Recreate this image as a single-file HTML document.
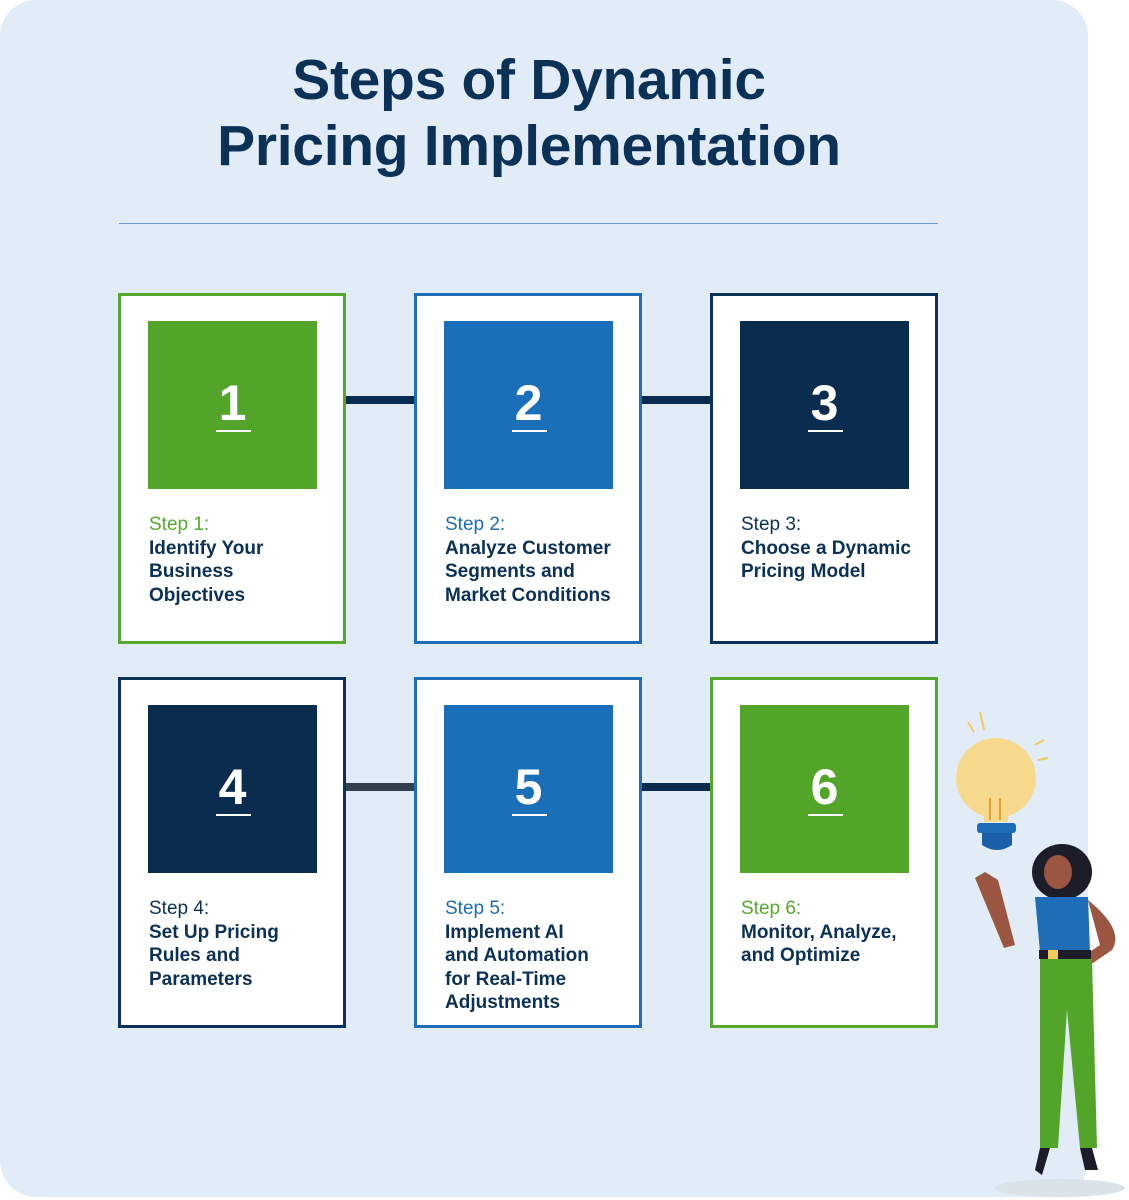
<!DOCTYPE html>
<html><head><meta charset="utf-8"><style>
body{margin:0;width:1129px;height:1200px;background:#fff;position:relative;overflow:hidden;font-family:"Liberation Sans",sans-serif}
.bg{position:absolute;left:0;top:0;width:1088px;height:1197px;background:#e1ecf6;border-radius:36px}
h1{position:absolute;left:0;width:1058px;top:47px;margin:0;text-align:center;font-size:57px;line-height:66px;color:#0c3156;font-weight:700;letter-spacing:-0.3px}
.hr{position:absolute;left:119px;top:223px;width:819px;height:1px;background:#6a9bd0}
.card{position:absolute;width:222px;height:345px;background:#fff;border:3px solid}
.sq{position:absolute;left:27px;top:25px;width:169px;height:168px;color:#fff;font-size:50px;font-weight:700;text-align:center}
.sq span{position:absolute;left:0;right:0;top:54px;line-height:56px}
.sq i{position:absolute;left:68px;top:109px;width:35px;height:2px;background:#fff}
.txt{position:absolute;left:28px;top:217px;font-size:19px;line-height:23.5px;color:#0c3156;font-weight:700}
.txt b{display:block;font-weight:400}
.con{position:absolute;height:8px;background:#0a2d4f}
.g{border-color:#55a82b}.b{border-color:#1f6db6}.n{border-color:#0c3156}
</style></head><body>
<div class="bg"></div>
<h1>Steps of Dynamic<br>Pricing Implementation</h1>
<div class="hr"></div>
<div class="con" style="left:346px;top:396px;width:70px"></div>
<div class="con" style="left:642px;top:396px;width:70px"></div>
<div class="con" style="left:346px;top:783px;width:70px;background:#333f4c"></div>
<div class="con" style="left:642px;top:783px;width:70px"></div>

<div class="card g" style="left:118px;top:293px"><div class="sq" style="background:#53a52a"><span>1</span><i></i></div><div class="txt"><b style="color:#55a82b">Step 1:</b>Identify Your<br>Business<br>Objectives</div></div>
<div class="card b" style="left:414px;top:293px"><div class="sq" style="background:#1b6fb8"><span>2</span><i></i></div><div class="txt"><b style="color:#1f6db6">Step 2:</b>Analyze Customer<br>Segments and<br>Market Conditions</div></div>
<div class="card n" style="left:710px;top:293px"><div class="sq" style="background:#0a2d4f"><span>3</span><i></i></div><div class="txt"><b style="color:#0c3156">Step 3:</b>Choose a Dynamic<br>Pricing Model</div></div>
<div class="card n" style="left:118px;top:677px"><div class="sq" style="background:#0a2d4f"><span>4</span><i></i></div><div class="txt"><b style="color:#0c3156">Step 4:</b>Set Up Pricing<br>Rules and<br>Parameters</div></div>
<div class="card b" style="left:414px;top:677px"><div class="sq" style="background:#1b6fb8"><span>5</span><i></i></div><div class="txt"><b style="color:#1f6db6">Step 5:</b>Implement AI<br>and Automation<br>for Real-Time<br>Adjustments</div></div>
<div class="card g" style="left:710px;top:677px"><div class="sq" style="background:#53a52a"><span>6</span><i></i></div><div class="txt"><b style="color:#55a82b">Step 6:</b>Monitor, Analyze,<br>and Optimize</div></div>

<svg style="position:absolute;left:940px;top:700px" width="189" height="500" viewBox="0 0 189 500">
<ellipse cx="120" cy="488" rx="65" ry="9" fill="#dbe3ea"/>
<g stroke="#f2c95d" stroke-width="2"><line x1="28" y1="22" x2="34" y2="32"/><line x1="40" y1="12" x2="44" y2="30"/><line x1="95" y1="45" x2="104" y2="40"/><line x1="98" y1="60" x2="108" y2="58"/></g>
<circle cx="56" cy="78" r="40" fill="#f7d98e"/>
<rect x="44" y="100" width="24" height="22" fill="#f7d98e"/>
<path d="M50 120 V98 M60 120 V98" stroke="#e0a030" stroke-width="2"/>
<rect x="37" y="123" width="39" height="10" rx="3" fill="#1f6db6"/>
<path d="M42 133 H72 V145 Q57 155 42 145Z" fill="#1a5fa8"/>
<path d="M35 178 L45 172 L58 180 L75 245 L64 248 Z" fill="#9a5640"/>
<ellipse cx="122" cy="172" rx="30" ry="28" fill="#1d1d2a"/>
<ellipse cx="118" cy="172" rx="14" ry="17" fill="#9a5640"/>
<path d="M95 197 L148 197 L150 252 L100 252 Z" fill="#1f6db6"/>
<path d="M148 200 Q185 230 172 250 L150 265 L145 255 L160 245 Z" fill="#9a5640"/>
<rect x="99" y="250" width="52" height="9" fill="#1d1d2a"/>
<rect x="108" y="250" width="10" height="9" fill="#f2c95d"/>
<path d="M100 259 L152 259 L157 448 L140 448 L127 310 L118 448 L100 448 Z" fill="#53a52a"/>
<path d="M95 470 L100 448 L110 448 L102 475 Z M140 448 L152 448 L158 470 L145 470Z" fill="#1d1d2a"/>
</svg>
</body></html>
